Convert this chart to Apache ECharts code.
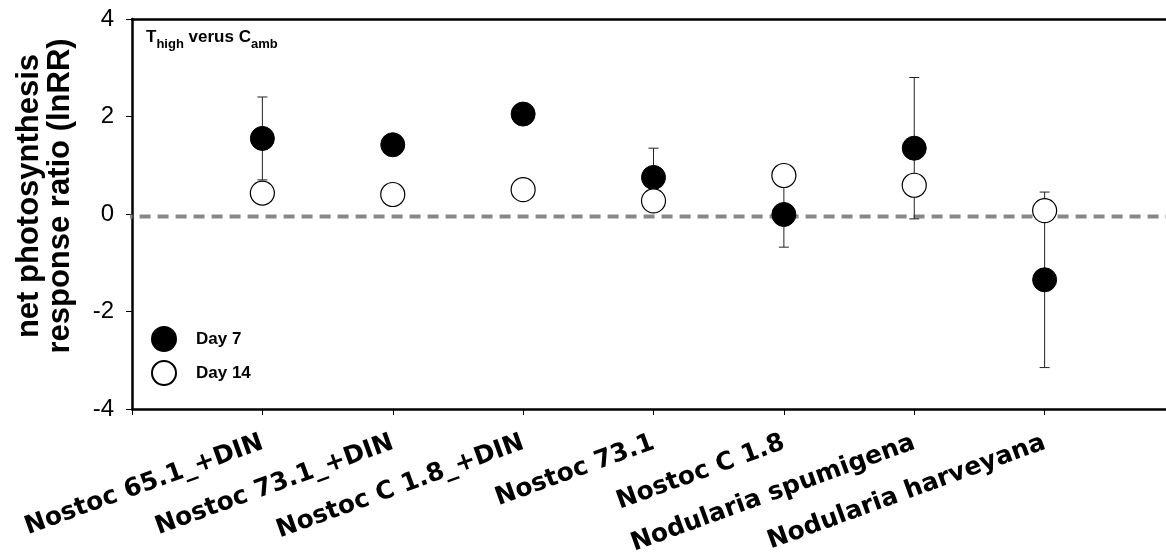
<!DOCTYPE html>
<html>
<head>
<meta charset="utf-8">
<script src="https://cdn.jsdelivr.net/npm/echarts@6/dist/echarts.min.js"></script>
<style>
html,body{margin:0;padding:0;background:#fff;}
#chart{width:1166px;height:555px;}
</style>
</head>
<body>
<div id="chart"></div>
<script>
// ---- data ----
var categories = ['Nostoc 65.1_+DIN', 'Nostoc 73.1_+DIN', 'Nostoc C 1.8_+DIN', 'Nostoc 73.1', 'Nostoc C 1.8', 'Nodularia spumigena', 'Nodularia harveyana'];
var day7 = [1.55, 1.42, 2.05, 0.75, -0.01, 1.35, -1.35];
var day7Err = [0.85, 0, 0, 0.6, 0.67, 1.45, 1.8];
var day14 = [0.43, 0.40, 0.50, 0.27, 0.79, 0.59, 0.07];
var yTicks = [-4, -2, 0, 2, 4];
var refLineY = -0.05;
var refLineX = [-0.08, 8];
var seriesNames = ['Day 7', 'Day 14'];
var yAxisTitle = 'net photosynthesis\nresponse ratio (lnRR)';

var chart = echarts.init(document.getElementById('chart'), null, {renderer: 'canvas'});

var pts7 = day7.map(function (v, i) { return [i + 1, v]; });
var pts14 = day14.map(function (v, i) { return [i + 1, v]; });
var errData = day7.map(function (v, i) { return [i + 1, v, day7Err[i]]; });

var option = {
  backgroundColor: '#fff',
  animation: false,
  title: {
    left: 146, top: 28, padding: 0,
    text: '{b|T}{s|high}{b| verus C}{s|amb}',
    textStyle: {
      rich: {
        b: {fontFamily: 'Liberation Sans', fontWeight: 'bold', fontSize: 17, color: '#000', lineHeight: 18, verticalAlign: 'bottom'},
        s: {fontFamily: 'Liberation Sans', fontWeight: 'bold', fontSize: 13, color: '#000', lineHeight: 18, verticalAlign: 'bottom', padding: [0, 0, -5, 0]}
      }
    }
  },
  legend: {
    data: seriesNames,
    orient: 'vertical',
    left: 151, top: 326, padding: 0,
    itemWidth: 24, itemHeight: 24, itemGap: 8,
    textStyle: {fontFamily: 'Liberation Sans', fontWeight: 'bold', fontSize: 17, color: '#000', padding: [0, 0, 0, 15]}
  },
  graphic: [{
    type: 'text',
    x: 45, y: 196,
    rotation: Math.PI / 2,
    style: {
      text: yAxisTitle,
      fontFamily: 'Liberation Sans', fontWeight: 'bold', fontSize: 31, lineHeight: 31,
      fill: '#000', align: 'center', verticalAlign: 'middle'
    }
  }],
  grid: {left: 132, top: 19, width: 1043, height: 390, outerBoundsMode: 'none', containLabel: false},
  xAxis: [{
    type: 'value', min: 0, max: 8, interval: 1,
    splitLine: {show: false},
    axisLine: {onZero: false, lineStyle: {color: '#000', width: 2.5}},
    axisTick: {length: 6, lineStyle: {color: '#000', width: 1}},
    axisLabel: {
      rotate: 20, margin: 33,
      fontFamily: 'DejaVu Sans', fontWeight: 'bold', fontSize: 25, color: '#000',
      formatter: function (v) { return categories[v - 1] || ''; }
    }
  }, {
    type: 'value', min: 0, max: 8, position: 'top',
    splitLine: {show: false},
    axisLine: {onZero: false, lineStyle: {color: '#000', width: 2.5}},
    axisTick: {show: false}, axisLabel: {show: false}
  }],
  yAxis: {
    type: 'value', min: yTicks[0], max: yTicks[yTicks.length - 1], interval: 2,
    splitLine: {show: false},
    axisLine: {onZero: false, lineStyle: {color: '#000', width: 2.5}},
    axisTick: {length: 6, lineStyle: {color: '#000', width: 1}},
    axisLabel: {margin: 18, fontFamily: 'Liberation Sans', fontSize: 24, color: '#000'}
  },
  series: [{
    type: 'line',
    data: refLineX.map(function (x) { return [x, refLineY]; }),
    symbol: 'none', clip: false, silent: true, z: 1,
    lineStyle: {color: '#888', width: 4, type: [11, 7]}
  }, {
    type: 'custom', z: 2, silent: true,
    data: errData,
    renderItem: function (params, api) {
      var e = api.value(2);
      if (!e) return null;
      var x = api.value(0), y = api.value(1);
      var top = api.coord([x, y + e]);
      var bot = api.coord([x, y - e]);
      var c = 5;
      var st = {stroke: '#222', lineWidth: 1};
      return {type: 'group', children: [
        {type: 'line', shape: {x1: top[0], y1: top[1], x2: bot[0], y2: bot[1]}, style: st},
        {type: 'line', shape: {x1: top[0] - c, y1: top[1], x2: top[0] + c, y2: top[1]}, style: st},
        {type: 'line', shape: {x1: bot[0] - c, y1: bot[1], x2: bot[0] + c, y2: bot[1]}, style: st}
      ]};
    }
  }, {
    name: seriesNames[0], type: 'scatter', z: 3,
    data: pts7, symbol: 'circle', symbolSize: 24,
    itemStyle: {color: '#000', borderColor: '#000', borderWidth: 1, opacity: 1}
  }, {
    name: seriesNames[1], type: 'scatter', z: 4,
    data: pts14, symbol: 'circle', symbolSize: 24,
    itemStyle: {color: '#fff', borderColor: '#000', borderWidth: 1.2, opacity: 1}
  }]
};
chart.setOption(option);
</script>
</body>
</html>
